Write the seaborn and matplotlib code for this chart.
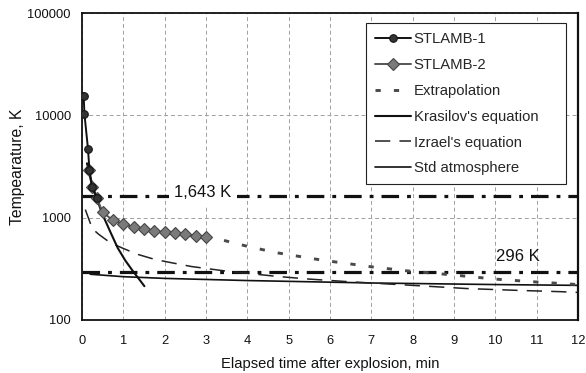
import numpy as np
import pandas as pd
import matplotlib
matplotlib.use("Agg")
import matplotlib.pyplot as plt
import matplotlib.ticker as mticker
import seaborn as sns

# ---- data ----
stlamb1_t = [0.0, 0.04, 0.06, 0.145, 0.18, 0.24, 0.36]
stlamb1_T = [15500, 15300, 10200, 4700, 2900, 2000, 1550]

stlamb2_t = [0.17, 0.24, 0.36, 0.5, 0.75, 1.0, 1.25, 1.5, 1.75, 2.0, 2.25, 2.5, 2.75, 3.0]
stlamb2_T = [2900, 2000, 1550, 1130, 940, 865, 810, 770, 742, 718, 703, 687, 668, 650]

extrap_t = [3.0, 3.4, 4.0, 4.7, 5.8, 7.0, 7.9, 9.0, 10.0, 11.0, 12.0]
extrap_T = [650, 604, 525, 455, 385, 331, 301, 275, 251, 235, 222]

krasilov_t = [0.12, 0.2, 0.34, 0.5, 0.7, 0.865, 1.05, 1.23, 1.4, 1.51]
krasilov_T = [3400, 2500, 1600, 1067, 705, 505, 380, 301, 245, 214]

izrael_t = [0.08, 0.25, 0.4, 0.68, 1.0, 1.33, 1.75, 2.13, 2.65, 3.5, 4.75, 5.5, 6.5, 8.0, 9.3, 10.5, 11.6, 12.0]
izrael_T = [1200, 780, 690, 570, 500, 440, 392, 365, 333, 300, 266, 251, 236, 218, 203, 195, 189, 186]

stdatm_t = [0.2, 1.0, 2.0, 4.0, 7.0, 10.0, 12.0]
stdatm_T = [280, 265, 255, 243, 230, 222, 218]

ref_levels = [1643, 296]
ref_labels = ["1,643 K", "296 K"]

x_ticks = list(range(0, 13))
y_ticks = [100, 1000, 10000, 100000]

# ---- style ----
sns.set_style("white")
plt.rcParams["font.family"] = ["Liberation Sans", "DejaVu Sans"]

fig = plt.figure(figsize=(5.86, 3.73), dpi=100)
ax = fig.add_axes([82 / 586, 1 - 320 / 373, 496 / 586, 307 / 373])

ax.set_yscale("log")
ax.set_xlim(0, 12)
ax.set_ylim(100, 100000)

# grid
ax.set_xticks(x_ticks)
ax.yaxis.set_major_locator(mticker.FixedLocator(y_ticks))
ax.yaxis.set_minor_locator(mticker.NullLocator())
ax.yaxis.set_major_formatter(mticker.FuncFormatter(lambda v, _: f"{int(round(v))}"))
ax.grid(True, which="major", color="#a0a0a0", lw=0.7, ls=(0, (4, 3)))
ax.set_axisbelow(True)

# reference lines
for lvl in ref_levels:
    ax.axhline(lvl, color="#111111", lw=2.3, ls=(0, (5.5, 2.5, 1.2, 2.5)), zorder=2)

# curves
sns.lineplot(x=stdatm_t, y=stdatm_T, ax=ax, color="#111111", lw=1.2,
             estimator=None, label="Std atmosphere", zorder=3)
sns.lineplot(x=izrael_t, y=izrael_T, ax=ax, color="#222222", lw=1.1,
             ls=(0, (10, 6)), estimator=None, label="Izrael's equation", zorder=3)
sns.lineplot(x=krasilov_t, y=krasilov_T, ax=ax, color="#111111", lw=1.5,
             estimator=None, label="Krasilov's equation", zorder=4)
sns.lineplot(x=extrap_t, y=extrap_T, ax=ax, color="#4a4a4a", lw=2.1,
             ls=(0, (1.8, 4.5)), estimator=None, label="Extrapolation", zorder=3)
sns.lineplot(x=stlamb2_t, y=stlamb2_T, ax=ax, color="#555555", lw=1.4,
             marker="D", markersize=6.5, markerfacecolor="#7a7a7a",
             markeredgecolor="#444444", markeredgewidth=0.8,
             estimator=None, label="STLAMB-2", zorder=5)
sns.lineplot(x=stlamb1_t, y=stlamb1_T, ax=ax, color="#111111", lw=1.4,
             marker="o", markersize=5.5, markerfacecolor="#333333",
             markeredgecolor="#111111", estimator=None, label="STLAMB-1", zorder=6)

# annotations
ax.text(2.92, 1760, ref_labels[0], fontsize=12, ha="center",
        va="center", color="#111111", zorder=7,
        bbox=dict(facecolor="white", edgecolor="none", pad=4))
ax.text(10.55, 422, ref_labels[1], fontsize=12, ha="center",
        va="center", color="#111111", zorder=7)

# legend in reference order
handles, labels = ax.get_legend_handles_labels()
order = ["STLAMB-1", "STLAMB-2", "Extrapolation", "Krasilov's equation",
         "Izrael's equation", "Std atmosphere"]
hmap = dict(zip(labels, handles))
leg = ax.legend([hmap[k] for k in order], order, loc="upper left",
                bbox_to_anchor=(0.5726, 0.4, 0.4032, 0.567), mode="expand",
                fontsize=10.7, frameon=True,
                fancybox=False, edgecolor="#222222", framealpha=1,
                handlelength=2.4, handletextpad=0.2, labelspacing=0.8,
                borderpad=0.6, borderaxespad=0)
leg.get_frame().set_linewidth(0.8)

# axes styling
for s in ax.spines.values():
    s.set_color("#111111")
    s.set_linewidth(1.3)
ax.spines["right"].set_linewidth(1.6)
ax.tick_params(axis="both", length=0, labelsize=9.3, colors="#111111")
ax.tick_params(axis="x", pad=11)
ax.tick_params(axis="y", pad=8)
ax.set_xlabel("Elapsed time after explosion, min", fontsize=10.6, labelpad=7, color="#111111")
ax.set_ylabel("Tempearature, K", fontsize=11.3, labelpad=2, color="#111111")

fig.savefig("out.png", dpi=100)
